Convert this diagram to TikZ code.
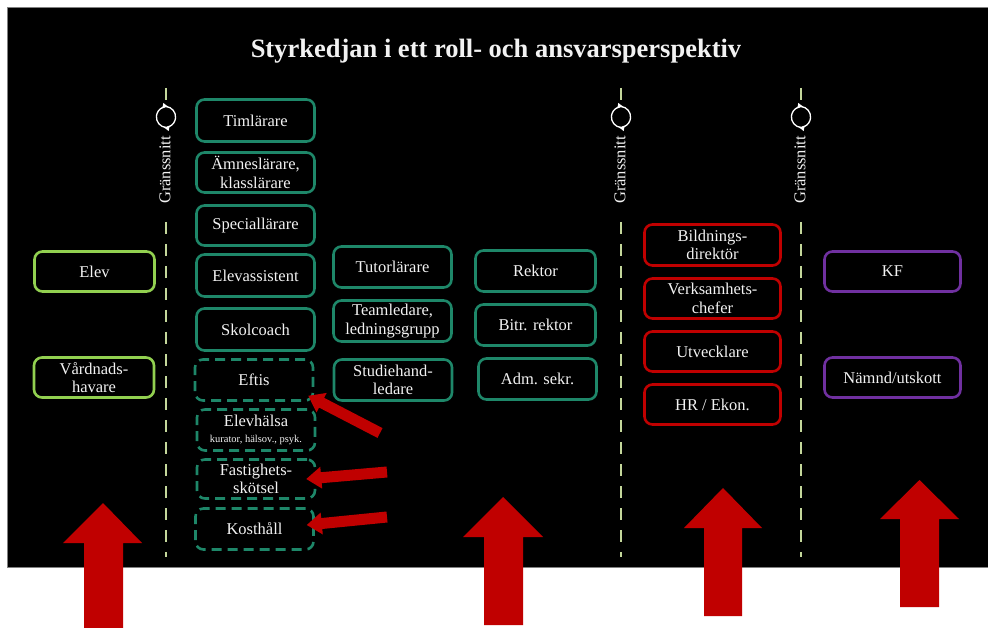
\documentclass[tikz,border=0pt]{standalone}
\usepackage{fontspec}
\setmainfont{Liberation Serif}
\usetikzlibrary{calc,arrows.meta}
\definecolor{lgreen}{RGB}{146,208,80}
\definecolor{teal2}{RGB}{30,135,105}
\definecolor{dred}{RGB}{192,0,0}
\definecolor{purp}{RGB}{112,48,160}
\definecolor{sepcol}{RGB}{196,215,155}
\definecolor{txt}{RGB}{242,242,242}
\tikzset{
  box/.style={draw, line width=2.6pt, rounded corners=8pt, align=center, text=txt, inner sep=0pt,
    font=\fontsize{16.5}{18.5}\selectfont, minimum height=41pt, minimum width=118pt},
  gbox/.style={box, draw=lgreen, minimum width=120pt, minimum height=40pt},
  tbox/.style={box, draw=teal2},
  dbox/.style={tbox, dash pattern=on 10pt off 6pt},
  rbox/.style={box, draw=dred, minimum width=136pt},
  pbox/.style={box, draw=purp, minimum width=136pt},
  sepline/.style={draw=sepcol, line width=2.6pt, dash pattern=on 12pt off 10pt},
  septop/.style={draw=sepcol, line width=2.6pt},
  cyc/.style={draw=white, line width=1.3pt, -{Latex[length=6pt,width=6pt]}},
  gtext/.style={rotate=90, text=txt, font=\fontsize{16.5}{18}\selectfont},
  redfill/.style={fill=dred, draw=none},
}
\newcommand{\slimarrow}[2]{%
  \coordinate (hb) at ($(#2)!15pt!(#1)$);
  \fill[dred] ($(#1)!5.5pt!90:(#2)$) -- ($(hb)!5.5pt!90:(#2)$) -- ($(hb)!11pt!90:(#2)$) -- (#2)
    -- ($(hb)!11pt!-90:(#2)$) -- ($(hb)!5.5pt!-90:(#2)$) -- ($(#1)!5.5pt!-90:(#2)$) -- cycle;}
\newcommand{\sepmark}[2]{%
  \coordinate (#2top) at (#1,88);
  \coordinate (#2a) at (#1,100);
  \coordinate (#2c) at (#1,117);
  \coordinate (#2b) at (#1,222);
  \coordinate (#2bot) at (#1,557);
  \draw[septop] (#2top) -- (#2a);
  \draw[sepline] (#2b) -- (#2bot);
  \draw[cyc] ($(#2c)+(0,10.5)$) arc[start angle=265, end angle=80, radius=10.5pt];
  \draw[cyc] ($(#2c)+(0,-10.5)$) arc[start angle=85, end angle=-100, radius=10.5pt];
  \node[gtext] (#2txt) at ($(#2c)+(-1,53)$) {Gränssnitt};}
\begin{document}
\begin{tikzpicture}[x=1pt,y=-1pt]
\useasboundingbox (0,0) rectangle (988,628);
\fill[white] (0,0) rectangle (988,628);
\filldraw[fill=black, draw=gray, line width=1pt] (7,8) rectangle (990,567);

\node[text=txt, font=\fontsize{26.5}{28}\selectfont\bfseries] (title) at (496,51) {Styrkedjan i ett roll- och ansvarsperspektiv};

\sepmark{166}{sa}
\sepmark{621}{sb}
\sepmark{801}{sc}

\node[gbox] (elev) at (94.5,271.5) {Elev};
\node[gbox] (vard) at (94,377.5) {Vårdnads-\\havare};

\node[tbox, minimum height=42pt] (tim) at (255.5,120.5) {Timlärare};
\node[tbox, minimum height=40pt] (amne) at (255.5,172.5) {Ämneslärare,\\klasslärare};
\node[tbox, minimum height=40pt] (spec) at (255.5,225.5) {Speciallärare};
\node[tbox, minimum height=42pt] (eass) at (255.5,275.5) {Elevassistent};
\node[tbox, minimum height=42pt] (skol) at (255.5,329.5) {Skolcoach};
\node[dbox] (eftis) at (254,380) {Eftis};
\node[dbox] (elevh) at (256,430) {Elevhälsa\\[-2pt]{\fontsize{10.5}{11}\selectfont kurator, hälsov., psyk.}};
\node[dbox, minimum height=39pt] (fast) at (256,479) {Fastighets-\\skötsel};
\node[dbox] (kost) at (254.5,529) {Kosthåll};

\node[tbox] (tutor) at (392.5,267) {Tutorlärare};
\node[tbox] (team) at (392.5,321) {Teamledare,\\ledningsgrupp};
\node[tbox] (stud) at (393,380) {Studiehand-\\ledare};

\node[tbox, minimum width=120pt] (rektor) at (535.5,271) {Rektor};
\node[tbox, minimum width=120pt] (bitr) at (535.5,325) {Bitr. rektor};
\node[tbox] (adm) at (537.5,379) {Adm. sekr.};

\node[rbox] (bild) at (712.5,245) {Bildnings-\\direktör};
\node[rbox, minimum height=40pt] (verk) at (712.5,298.5) {Verksamhets-\\chefer};
\node[rbox, minimum height=40pt] (utv) at (712.5,351.5) {Utvecklare};
\node[rbox, minimum height=40pt] (hr) at (712.5,404.5) {HR / Ekon.};

\node[pbox, minimum height=40pt] (kf) at (892.5,271.5) {KF};
\node[pbox, minimum height=40pt] (namnd) at (892.5,377.5) {Nämnd/utskott};

% small red arrows
\coordinate (t1) at (380,433);
\coordinate (p1) at ($(eftis.south east)+(-6,-6)$);
\coordinate (t2) at (387,472);
\coordinate (p2) at ($(fast.east)+(-10,0)$);
\coordinate (t3) at (387,517);
\coordinate (p3) at ($(kost.east)+(-8,-4)$);
\slimarrow{t1}{p1}
\slimarrow{t2}{p2}
\slimarrow{t3}{p3}

% big up arrows
\fill[redfill] (103,503) -- (142,543) -- (123,543) -- (123,628) -- (84,628) -- (84,543) -- (63,543) -- cycle;
\fill[redfill] (503,497) -- (543,537) -- (523,537) -- (523,625) -- (484,625) -- (484,537) -- (463,537) -- cycle;
\fill[redfill] (723,488) -- (762,528) -- (742,528) -- (742,616) -- (704,616) -- (704,528) -- (684,528) -- cycle;
\fill[redfill] (919.5,480) -- (959,519) -- (939,519) -- (939,607) -- (900,607) -- (900,519) -- (880,519) -- cycle;
\end{tikzpicture}
\end{document}
